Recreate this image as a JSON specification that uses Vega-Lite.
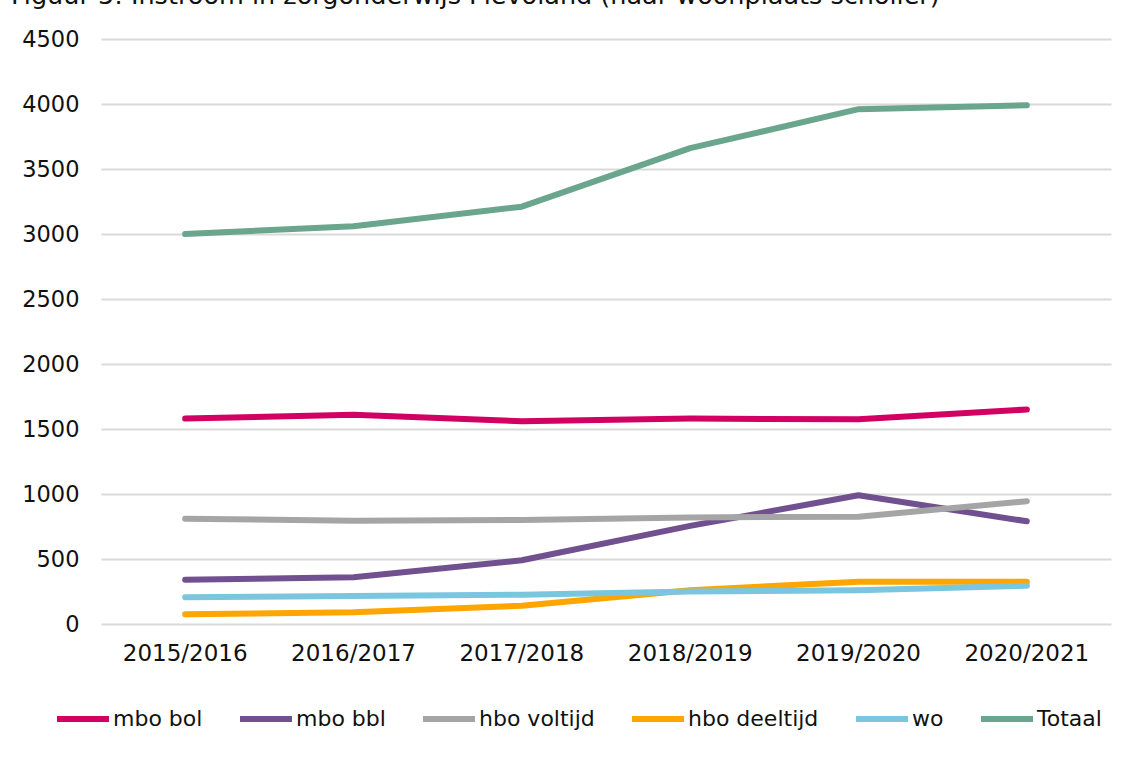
{
  "$schema": "https://vega.github.io/schema/vega-lite/v6.json",
  "autosize": "none",
  "width": 1010,
  "height": 585,
  "padding": {"left": 101, "top": 39, "right": 22, "bottom": 139},
  "background": "white",
  "title": {
    "text": "Figuur 5: Instroom in zorgonderwijs Flevoland (naar woonplaats scholier)",
    "anchor": "start",
    "frame": "group",
    "orient": "top",
    "baseline": "alphabetic",
    "font": "DejaVu Sans",
    "fontSize": 25.5,
    "fontWeight": "normal",
    "color": "#111111",
    "dx": -90,
    "offset": 0,
    "dy": 1
  },
  "data": {
    "values": [
      {"jaar": "2015/2016", "reeks": "mbo bol", "aantal": 1580},
      {"jaar": "2016/2017", "reeks": "mbo bol", "aantal": 1610},
      {"jaar": "2017/2018", "reeks": "mbo bol", "aantal": 1560},
      {"jaar": "2018/2019", "reeks": "mbo bol", "aantal": 1580},
      {"jaar": "2019/2020", "reeks": "mbo bol", "aantal": 1575},
      {"jaar": "2020/2021", "reeks": "mbo bol", "aantal": 1650},
      {"jaar": "2015/2016", "reeks": "mbo bbl", "aantal": 340},
      {"jaar": "2016/2017", "reeks": "mbo bbl", "aantal": 360},
      {"jaar": "2017/2018", "reeks": "mbo bbl", "aantal": 490},
      {"jaar": "2018/2019", "reeks": "mbo bbl", "aantal": 755},
      {"jaar": "2019/2020", "reeks": "mbo bbl", "aantal": 990},
      {"jaar": "2020/2021", "reeks": "mbo bbl", "aantal": 790},
      {"jaar": "2015/2016", "reeks": "hbo voltijd", "aantal": 810},
      {"jaar": "2016/2017", "reeks": "hbo voltijd", "aantal": 795},
      {"jaar": "2017/2018", "reeks": "hbo voltijd", "aantal": 800},
      {"jaar": "2018/2019", "reeks": "hbo voltijd", "aantal": 820},
      {"jaar": "2019/2020", "reeks": "hbo voltijd", "aantal": 825},
      {"jaar": "2020/2021", "reeks": "hbo voltijd", "aantal": 945},
      {"jaar": "2015/2016", "reeks": "hbo deeltijd", "aantal": 75},
      {"jaar": "2016/2017", "reeks": "hbo deeltijd", "aantal": 90},
      {"jaar": "2017/2018", "reeks": "hbo deeltijd", "aantal": 140},
      {"jaar": "2018/2019", "reeks": "hbo deeltijd", "aantal": 260},
      {"jaar": "2019/2020", "reeks": "hbo deeltijd", "aantal": 325},
      {"jaar": "2020/2021", "reeks": "hbo deeltijd", "aantal": 325},
      {"jaar": "2015/2016", "reeks": "wo", "aantal": 205},
      {"jaar": "2016/2017", "reeks": "wo", "aantal": 215},
      {"jaar": "2017/2018", "reeks": "wo", "aantal": 225},
      {"jaar": "2018/2019", "reeks": "wo", "aantal": 250},
      {"jaar": "2019/2020", "reeks": "wo", "aantal": 260},
      {"jaar": "2020/2021", "reeks": "wo", "aantal": 295},
      {"jaar": "2015/2016", "reeks": "Totaal", "aantal": 3000},
      {"jaar": "2016/2017", "reeks": "Totaal", "aantal": 3060},
      {"jaar": "2017/2018", "reeks": "Totaal", "aantal": 3210},
      {"jaar": "2018/2019", "reeks": "Totaal", "aantal": 3660},
      {"jaar": "2019/2020", "reeks": "Totaal", "aantal": 3960},
      {"jaar": "2020/2021", "reeks": "Totaal", "aantal": 3990}
    ]
  },
  "mark": {"type": "line", "strokeWidth": 6, "strokeCap": "round", "strokeJoin": "round"},
  "encoding": {
    "x": {
      "field": "jaar",
      "type": "ordinal",
      "scale": {"type": "band", "paddingInner": 0, "paddingOuter": 0},
      "axis": {
        "title": null,
        "labelAngle": 0,
        "ticks": false,
        "domain": false,
        "grid": false,
        "labelPadding": 18,
        "labelFont": "DejaVu Sans",
        "labelFontSize": 23,
        "labelColor": "#111111"
      }
    },
    "y": {
      "field": "aantal",
      "type": "quantitative",
      "scale": {"domain": [0, 4500], "nice": false},
      "axis": {
        "title": null,
        "values": [0, 500, 1000, 1500, 2000, 2500, 3000, 3500, 4000, 4500],
        "format": "d",
        "ticks": false,
        "domain": false,
        "gridColor": "#d9d9d9",
        "gridWidth": 2,
        "labelPadding": 22,
        "labelFont": "DejaVu Sans",
        "labelFontSize": 22.5,
        "labelColor": "#111111"
      }
    },
    "color": {
      "field": "reeks",
      "type": "nominal",
      "sort": ["mbo bol", "mbo bbl", "hbo voltijd", "hbo deeltijd", "wo", "Totaal"],
      "scale": {
        "domain": ["mbo bol", "mbo bbl", "hbo voltijd", "hbo deeltijd", "wo", "Totaal"],
        "range": ["#d10062", "#71508f", "#a5a5a5", "#ffa500", "#7bc6df", "#6aa58e"]
      },
      "legend": {
        "title": null,
        "orient": "none",
        "legendX": -47,
        "legendY": 651,
        "direction": "horizontal",
        "columns": 6,
        "symbolType": "stroke",
        "symbolSize": 2704,
        "symbolStrokeWidth": 6,
        "labelOffset": 1,
        "columnPadding": 25,
        "labelFont": "DejaVu Sans",
        "labelFontSize": 22,
        "labelColor": "#111111",
        "labelLimit": 400
      }
    }
  },
  "config": {
    "view": {"stroke": null},
    "font": "DejaVu Sans"
  }
}
